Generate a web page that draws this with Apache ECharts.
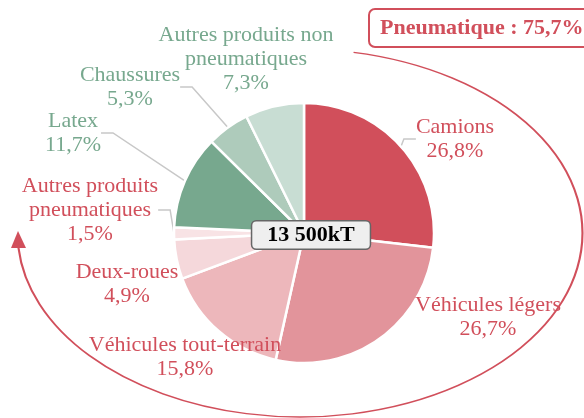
<!DOCTYPE html>
<html>
<head>
<meta charset="utf-8">
<script src="https://cdn.jsdelivr.net/npm/echarts@6/dist/echarts.min.js"></script>
<style>
  html, body { margin: 0; padding: 0; background: #fff; }
  #chart { width: 584px; height: 418px; }
</style>
</head>
<body>
<div id="chart"></div>
<script>
// catégories dans l'ordre du graphique (sens horaire depuis midi)
const categories = [
  'Camions',
  'Véhicules légers',
  'Véhicules tout-terrain',
  'Deux-roues',
  'Autres produits\npneumatiques',
  'Latex',
  'Chaussures',
  'Autres produits non\npneumatiques'
]
const values = [26.8, 26.7, 15.8, 4.9, 1.5, 11.7, 5.3, 7.3]
const isTire = [true, true, true, true, true, false, false, false]
const totalLabel = '13 500kT'
const tireLabel = 'Pneumatique : 75,7%'

const palette = ['#d14f5b', '#e2949b', '#edb7bb', '#f5d8db', '#f8e3e5', '#77a88e', '#aecbbb', '#c8ddd3']
const red = '#d14f5b'
const green = '#77a88e'
const font = '"Liberation Serif", "Times New Roman", serif'

// position des étiquettes (centre du bloc), comme dans l'original
const labelPos = [[455, 139], [488, 317], [185, 357], [127, 284], [90, 210], [73, 133], [130, 87], [246, 59]]
const withLine = [true, false, false, false, true, true, true, false]

const myChart = echarts.init(document.getElementById('chart'))

const pieData = categories.map((name, i) => ({
  name: name,
  value: values[i],
  itemStyle: { color: palette[i] },
  label: { color: isTire[i] ? red : green },
  labelLine: { show: withLine[i] }
}))

myChart.setOption({
  animation: false,
  textStyle: { fontFamily: font },
  series: [
    {
      type: 'pie',
      center: [304, 233],
      radius: 130,
      startAngle: 90,
      clockwise: true,
      data: pieData,
      itemStyle: {
        borderColor: '#fff',
        borderWidth: 2.5
      },
      label: {
        show: true,
        position: 'outside',
        overflow: 'none',
        fontFamily: font,
        fontSize: 22,
        lineHeight: 24,
        formatter: p => {
          const v = String(p.value).replace('.', ',') + '%'
          return p.name.split('\n').concat([v]).map(s => '{c|' + s + '}').join('\n')
        },
        rich: {
          c: { align: 'center', fontFamily: font, fontSize: 22, lineHeight: 24 }
        }
      },
      labelLine: {
        show: true,
        length: 8,
        length2: 12,
        lineStyle: { color: '#c8c8c8', width: 1.5 }
      },
      labelLayout: params => ({
        x: labelPos[params.dataIndex][0],
        y: labelPos[params.dataIndex][1],
        align: 'center',
        verticalAlign: 'middle'
      })
    }
  ],
  graphic: [
    // flèche elliptique autour du camembert
    {
      type: 'arc',
      x: 300,
      y: 233,
      scaleX: 1.535,
      shape: { cx: 0, cy: 0, r: 184, startAngle: -1.38, endAngle: 3.06, clockwise: true },
      style: { stroke: red, lineWidth: 1.4, fill: null },
      silent: true
    },
    {
      type: 'polygon',
      shape: { points: [[18, 231], [11, 248], [26, 248]] },
      style: { fill: red },
      silent: true
    },
    // encadré pneumatique
    {
      type: 'rect',
      shape: { x: 369, y: 9, width: 230, height: 38, r: 6 },
      style: { fill: '#fff', stroke: red, lineWidth: 2 },
      z: 10
    },
    {
      type: 'text',
      x: 380,
      y: 28,
      style: {
        text: tireLabel,
        fill: red,
        font: 'bold 22px ' + font,
        verticalAlign: 'middle'
      },
      z: 11
    },
    // total au centre
    {
      type: 'text',
      x: 311,
      y: 235,
      style: {
        text: totalLabel,
        fill: '#000',
        font: 'bold 22px ' + font,
        align: 'center',
        verticalAlign: 'middle',
        backgroundColor: '#efefef',
        borderColor: '#666',
        borderWidth: 1.5,
        borderRadius: 4,
        padding: [3, 15, 2, 15]
      },
      z: 20
    }
  ]
})

window.onresize = function() {
  myChart.resize()
}
</script>
</body>
</html>
